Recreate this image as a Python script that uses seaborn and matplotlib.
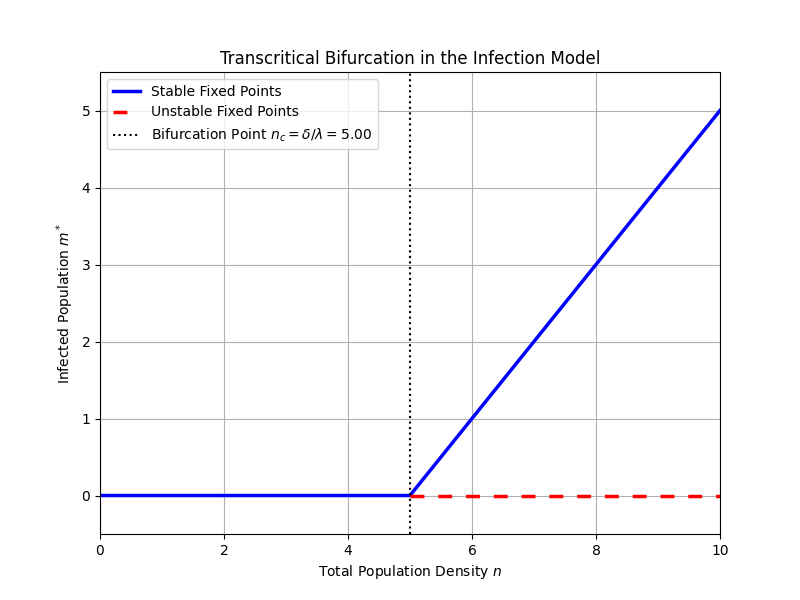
import matplotlib
matplotlib.use("Agg")
import matplotlib.pyplot as plt
import pandas as pd
import seaborn as sns

# critical density n_c = delta / lambda
n_c = 5.0

stable_n = [0.0, 5.0, 10.0]
stable_m = [0.0, 0.0, 5.0]
unstable_n = [5.0, 10.0]
unstable_m = [0.0, 0.0]

stableDF = pd.DataFrame({'n': stable_n, 'm': stable_m})
unstableDF = pd.DataFrame({'n': unstable_n, 'm': unstable_m})

fig, ax = plt.subplots(figsize=(8, 6), dpi=100)
sns.lineplot(data=stableDF, x='n', y='m', ax=ax, color='blue', linewidth=2.5,
             label='Stable Fixed Points')
sns.lineplot(data=unstableDF, x='n', y='m', ax=ax, color='red', linewidth=2.5,
             dashes=False, label='Unstable Fixed Points')
ax.lines[-1].set_dashes((4, 4))
ax.axvline(n_c, color='black', linestyle=':', linewidth=1.5,
           label=r'Bifurcation Point $n_c = \delta/\lambda = {:.2f}$'.format(n_c))

ax.set_xlim(0, 10)
ax.set_ylim(-0.5, 5.5)
ax.set_xlabel(r'Total Population Density $n$')
ax.set_ylabel(r'Infected Population $m^*$')
ax.set_title('Transcritical Bifurcation in the Infection Model')
ax.grid(True)
ax.legend(loc='upper left')

plt.savefig('out.png')
